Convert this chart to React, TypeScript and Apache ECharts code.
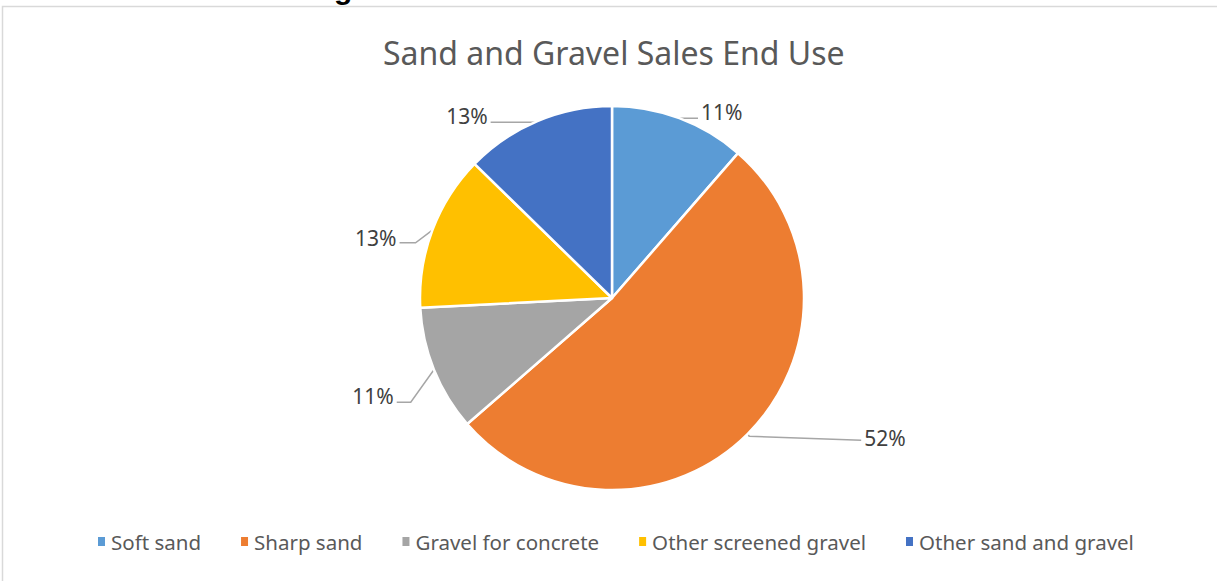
import React, { useEffect, useRef } from "react";
import * as echarts from "echarts";

const categories = ["Soft sand", "Sharp sand", "Gravel for concrete", "Other screened gravel", "Other sand and gravel"];
const values = [11.4, 52.2, 10.6, 13.1, 12.7];
const colors = ["#5B9BD5", "#ED7D31", "#A5A5A5", "#FFC000", "#4472C4"];
const lineLengths = [
  [2, 18],
  [2, 112],
  [25, 14],
  [18, 16],
  [2, 46],
];
const labelShift = [-4, 3, 17, 14, -3];
const bendShift = [2, 1, 23, 19, 3];
const lineShift = [2, 5, 23, 19, 3];

export default function App() {
  const ref = useRef<HTMLDivElement>(null);
  useEffect(() => {
    document.body.style.margin = "0";
    const chart = echarts.init(ref.current!, undefined, { renderer: "svg" });
    chart.setOption({
      animation: false,
      backgroundColor: "#ffffff",
      title: {
        text: "Sand and Gravel Sales End Use",
        left: 378,
        top: 31,
        textStyle: {
          fontFamily: "Noto Sans",
          fontSize: 32,
          fontWeight: "normal",
          color: "#595959",
        },
      },
      graphic: [
        {
          type: "rect",
          shape: { x: 2.5, y: 6.5, width: 1240, height: 600 },
          style: { fill: "none", stroke: "#d9d9d9", lineWidth: 1.5 },
          silent: true,
        },
        {
          type: "text",
          x: 334,
          y: -27,
          style: { text: "g", fontSize: 30, fontWeight: "bold", fontFamily: "Liberation Sans", fill: "#000" },
          silent: true,
        },
      ],
      legend: {
        bottom: 24,
        left: 91,
        itemWidth: 9,
        itemHeight: 11,
        itemGap: 38,
        icon: "rect",
        textStyle: { fontFamily: "Noto Sans", fontSize: 20.5, color: "#595959" },
        data: categories,
      },
      series: [
        {
          type: "pie",
          center: [612, 298],
          radius: 192,
          startAngle: 90,
          percentPrecision: 0,
          avoidLabelOverlap: false,
          itemStyle: { borderColor: "#ffffff", borderWidth: 2.5 },
          label: {
            show: true,
            formatter: "{d}%",
            fontFamily: "Noto Sans",
            fontSize: 21,
            color: "#404040",
            distanceToLabelLine: 3,
          },
          labelLine: {
            show: true,
            lineStyle: { color: "#a6a6a6", width: 1.5 },
          },
          labelLayout: (p: any) => {
            const i = p.dataIndex;
            const pts = p.labelLinePoints;
            const out: any = { dy: labelShift[i] };
            if (pts && pts.length === 3) {
              out.labelLinePoints = [
                [pts[0][0], pts[0][1]],
                [pts[1][0], pts[1][1] + bendShift[i]],
                [pts[2][0], pts[2][1] + lineShift[i]],
              ];
            }
            return out;
          },
          data: categories.map((name, i) => ({
            name,
            value: values[i],
            itemStyle: { color: colors[i] },
            labelLine: { length: lineLengths[i][0], length2: lineLengths[i][1] },
          })),
        },
      ],
    });
    return () => chart.dispose();
  }, []);
  return <div ref={ref} style={{ width: 1217, height: 581 }} />;
}
